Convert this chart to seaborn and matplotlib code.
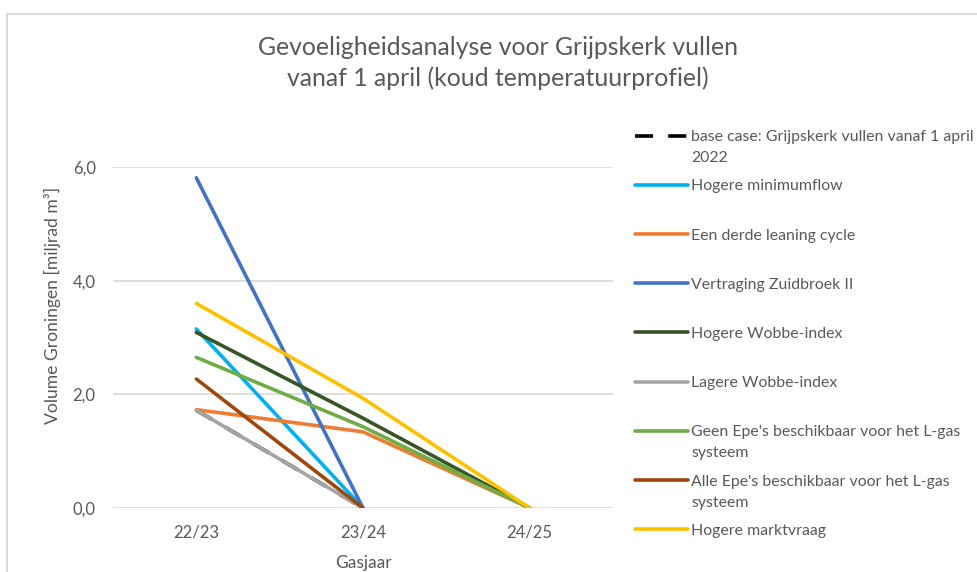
import matplotlib
matplotlib.use("Agg")
import matplotlib.pyplot as plt
import seaborn as sns
import numpy as np
import pandas as pd
from matplotlib.patches import Rectangle

# ---------------- data ----------------
categories = ["22/23", "23/24", "24/25"]
series_names = [
    "base case: Grijpskerk vullen vanaf 1 april",
    "Hogere minimumflow",
    "Een derde leaning cycle",
    "Vertraging Zuidbroek II",
    "Hogere Wobbe-index",
    "Lagere Wobbe-index",
    "Geen Epe's beschikbaar voor het L-gas",
    "Alle Epe's beschikbaar voor het L-gas",
    "Hogere marktvraag",
]
label_continuation = ["2022", "", "", "", "", "", "systeem", "systeem", ""]
base_case = [1.72, 0.0, np.nan]
hogere_minimumflow = [3.15, 0.0, np.nan]
een_derde_leaning = [1.73, 1.34, 0.0]
vertraging_zuidbroek = [5.81, 0.0, np.nan]
hogere_wobbe = [3.09, 1.58, 0.0]
lagere_wobbe = [1.72, 0.0, np.nan]
geen_epes = [2.65, 1.43, 0.0]
alle_epes = [2.27, 0.0, np.nan]
hogere_marktvraag = [3.60, 1.93, 0.0]
series_values = [base_case, hogere_minimumflow, een_derde_leaning,
                 vertraging_zuidbroek, hogere_wobbe, lagere_wobbe,
                 geen_epes, alle_epes, hogere_marktvraag]
colors = ["#000000", "#00B0F0", "#ED7D31", "#4472C4", "#375623",
          "#A5A5A5", "#70AD47", "#9E480E", "#FFC000"]
yticks = [0, 2, 4, 6]
ytick_labels = ["0,0", "2,0", "4,0", "6,0"]

title = "Gevoeligheidsanalyse voor Grijpskerk vullen\nvanaf 1 april (koud temperatuurprofiel)"
ylabel = "Volume Groningen [miljrad m³]"
xlabel = "Gasjaar"

# ---------------- figure ----------------
sns.set_theme(style="white")
plt.rcParams["font.family"] = ["Lato", "DejaVu Sans"]
W, H = 978, 572
TXT = "#595959"
fig = plt.figure(figsize=(W / 100, H / 100), dpi=100)
ax_l, ax_b, ax_w, ax_h = 113, 508, 500, 341
ax = fig.add_axes([ax_l / W, 1 - ax_b / H, ax_w / W, ax_h / H])

# chart area border (cropped at right/bottom)
fig.patches.append(Rectangle((7 / W, -0.1), 1.2, 1 - 14 / H + 0.1,
                             transform=fig.transFigure, fill=False,
                             edgecolor="#d9d9d9", linewidth=1.5))

lw = 2.6
for name, vals, col in zip(series_names, series_values, colors):
    df = pd.DataFrame({"x": np.arange(len(categories)), "y": vals}).dropna()
    if name.startswith("base case"):
        sns.lineplot(data=df, x="x", y="y", color=col, linewidth=lw, ax=ax,
                     label=name, dashes=False, linestyle=(0, (5, 4.2)))
    else:
        sns.lineplot(data=df, x="x", y="y", color=col, linewidth=lw, ax=ax,
                     label=name)

ax.set_xlim(-0.5, 2.5)
ax.set_ylim(0, 6)
ax.set_xticks(range(len(categories)))
ax.set_xticklabels(categories)
ax.set_yticks(yticks)
ax.set_yticklabels(ytick_labels)
ax.grid(axis="y", color="#d9d9d9", linewidth=1.2)
ax.set_axisbelow(True)
for s in ax.spines.values():
    s.set_visible(False)
ax.tick_params(axis="both", length=0, colors=TXT, labelsize=12)
ax.tick_params(axis="y", pad=12.5)
ax.tick_params(axis="x", pad=12)

ax.set_xlabel(xlabel, fontsize=12.5, color=TXT)
ax.xaxis.set_label_coords(0.5, (ax_b - 563) / ax_h)
ax.xaxis.label.set_va("center")
ax.set_ylabel(ylabel, fontsize=12.6, color=TXT)
ax.yaxis.set_label_coords((52 - ax_l) / ax_w, (ax_b - 305) / ax_h)
ax.yaxis.label.set_va("center")

fig.text(498 / W, 1 - 63 / H, title, ha="center", va="center",
         fontsize=17.8, color=TXT, linespacing=1.36)

handles, labels = ax.get_legend_handles_labels()
leg = ax.legend(handles, labels, loc="upper left",
                bbox_to_anchor=(635 / W, 1 - 130 / H),
                bbox_transform=fig.transFigure, frameon=False,
                fontsize=11.4, handlelength=3.35, handletextpad=0.2,
                labelspacing=2.22, borderpad=0, borderaxespad=0)
for t in leg.get_texts():
    t.set_color(TXT)

fig.canvas.draw()
inv = fig.transFigure.inverted()
for t, cont in zip(leg.get_texts(), label_continuation):
    if cont:
        bb = t.get_window_extent()
        x0, y0 = inv.transform((bb.x0, bb.y0))
        fig.text(x0, y0 - 21 / H, cont, ha="left", va="bottom",
                 fontsize=11.4, color=TXT)

fig.savefig("out.png", dpi=100)
